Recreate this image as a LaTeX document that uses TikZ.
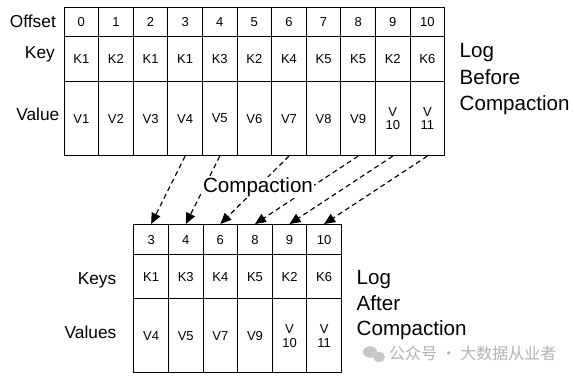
\documentclass[tikz,border=0pt]{standalone}
\usepackage{fontspec}
\setmainfont{Liberation Sans}
\newfontfamily\cjk{Noto Sans CJK SC}
\usetikzlibrary{arrows.meta}
\begin{document}
\begin{tikzpicture}[x=1pt,y=-1pt,
  cell/.style={draw,line width=1.1pt,inner sep=0pt,minimum width=34.6pt,anchor=north west,
    font=\fontsize{13}{13.5}\selectfont,align=center},
  offrow/.style={cell,minimum height=29.3pt},
  keyrow/.style={cell,minimum height=45pt},
  valrow/.style={cell,minimum height=74pt},
  boffrow/.style={cell,minimum height=30.3pt},
  bkeyrow/.style={cell,minimum height=44pt},
  bvalrow/.style={cell,minimum height=74pt},
  lab/.style={inner sep=0pt,anchor=base east,font=\fontsize{17.3}{20}\selectfont},
  big/.style={inner sep=0pt,anchor=base west,font=\fontsize{20.6}{24}\selectfont},
  move/.style={line width=1.15pt,dash pattern=on 5pt off 3.5pt,-{Triangle[length=11pt,width=9.5pt]}},
]
\useasboundingbox (0,0) rectangle (574,376);
\fill[white] (0,0) rectangle (574,376);

% top table
\foreach \o/\k/\v [count=\i from 0] in {0/K1/V1,1/K2/V2,2/K1/V3,3/K1/V4,4/K3/V5,5/K2/V6,6/K4/V7,7/K5/V8,8/K5/V9,9/K2/{V\\10},10/K6/{V\\11}}{
  \node[offrow] (to\i) at ({63.5+34.6*\i},6.7) {\o};
  \node[keyrow] (tk\i) at ({63.5+34.6*\i},36) {\k};
  \node[valrow] (tv\i) at ({63.5+34.6*\i},81) {\v};
}
\node[lab] (lOff) at (56,27.5) {Offset};
\node[lab] (lKey) at (55,58.5) {Key};
\node[lab] (lVal) at (59.5,120) {Value};

\node[big] (b1) at (459.5,57.5) {Log};
\node[big] (b2) at (459.5,84) {Before};
\node[big] (b3) at (459.5,110.5) {Compaction};

% bottom table
\foreach \o/\k/\v [count=\j from 0] in {3/K1/V4,4/K3/V5,6/K4/V7,8/K5/V9,9/K2/{V\\10},10/K6/{V\\11}}{
  \node[boffrow] (bo\j) at ({133.3+34.6*\j},224) {\o};
  \node[bkeyrow] (bk\j) at ({133.3+34.6*\j},254.3) {\k};
  \node[bvalrow] (bv\j) at ({133.3+34.6*\j},298.3) {\v};
}
\node[lab] (lKeys) at (116.5,284.5) {Keys};
\node[lab] (lVals) at (116.5,338) {Values};

\node[big] (a1) at (356.5,284.5) {Log};
\node[big] (a2) at (356.5,310) {After};
\node[big] (a3) at (356.5,335.5) {Compaction};

% arrows
\draw[move] (tv3.south) -- (bo0.north);
\draw[move] (tv4.south) -- (bo1.north);
\draw[move] (tv6.south) -- (bo2.north);
\draw[move] (tv8.south) -- (bo3.north);
\draw[move] (tv9.south) -- (bo4.north);
\draw[move] (tv10.south) -- (bo5.north);

\node[fill=white,inner sep=1pt,anchor=base,font=\fontsize{20.6}{24}\selectfont] (comp) at (258,192.5) {Compaction};

% watermark
\fill[black!22] (370,352) ellipse (7pt and 5.8pt);
\fill[black!22] (379,357) ellipse (6pt and 5pt);
\node[inner sep=0pt,anchor=west,text=black!30,font=\cjk\fontsize{16}{18}\selectfont] (wm) at (389,353) {公众号 · 大数据从业者};
\end{tikzpicture}
\end{document}
